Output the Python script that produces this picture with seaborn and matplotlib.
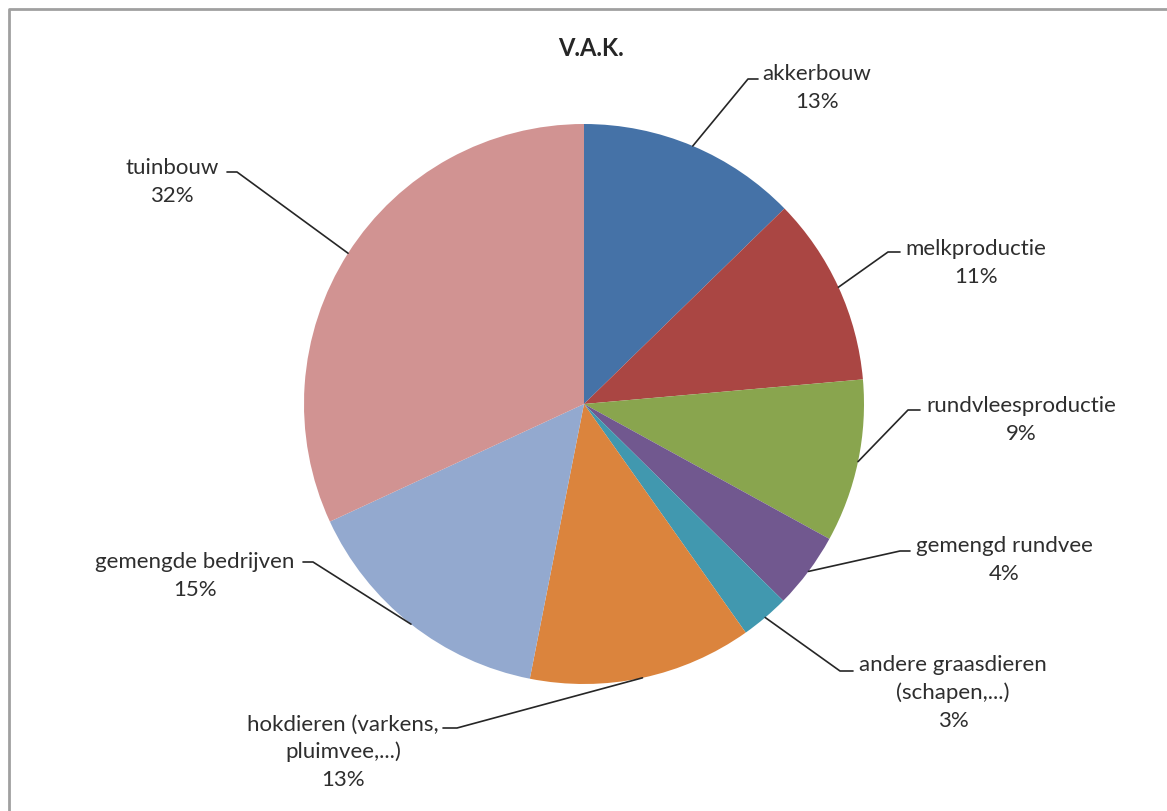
import numpy as np
import matplotlib
matplotlib.use("Agg")
import matplotlib.pyplot as plt
import seaborn as sns

# Data (share of V.A.K., clockwise from the top)
categories = ["akkerbouw", "melkproductie", "rundvleesproductie", "gemengd rundvee",
              "andere graasdieren\n(schapen,...)", "hokdieren (varkens,\npluimvee,...)",
              "gemengde bedrijven", "tuinbouw"]
shares = [12.7, 10.9, 9.4, 4.4, 2.8, 12.9, 15.0, 31.9]
colors = ["#4572A7", "#AA4643", "#89A54E", "#71588F", "#4198AF", "#DB843D", "#93A9CF", "#D19392"]

sns.set_theme(style="white")
plt.rcParams["font.family"] = ["Lato", "DejaVu Sans"]

W, H = 1167, 812
fig = plt.figure(figsize=(W / 100, H / 100), dpi=100)
ax = fig.add_axes([0, 0, 1, 1])

cx, cy, r = 584, 405, 280
wedges, _ = ax.pie(shares, colors=sns.color_palette(colors), center=(cx, cy), radius=r,
                   startangle=-90, counterclock=True, wedgeprops=dict(linewidth=0))
ax.set_xlim(0, W)
ax.set_ylim(H, 0)
ax.set_aspect("equal")
ax.axis("off")

# label layout: text block center, elbow point, horizontal end of leader
layout = [
    ((817, 88), (748, 80), (758, 80)),
    ((976, 263), (888, 253), (900, 253)),
    ((1021, 420), (908, 411), (920, 411)),
    ((1004, 560), (900, 552), (910, 552)),
    ((953, 693), (840, 672), (853, 672)),
    ((343, 752), (457, 729), (443, 729)),
    ((195, 576), (313, 563), (303, 563)),
    ((172, 182), (237, 173), (227, 173)),
]

total = sum(shares)
for w, name, val, (tpos, elbow, end) in zip(wedges, categories, shares, layout):
    mid = np.deg2rad((w.theta1 + w.theta2) / 2)
    sx, sy = cx + r * np.cos(mid), cy + r * np.sin(mid)
    ax.plot([sx, elbow[0], end[0]], [sy, elbow[1], end[1]], color="#262626", lw=1.2)
    pct = round(val / total * 100)
    ax.text(tpos[0], tpos[1], f"{name}\n{pct}%", ha="center", va="center",
            fontsize=16, color="#2e2e2e", linespacing=1.45)

ax.text(591, 48, "V.A.K.", ha="center", va="center", fontsize=17, fontweight="bold", color="#262626")

# chart border (only top and left visible)
ax.plot([9, 9, W], [H, 10, 10], color="#a0a0a0", lw=2, clip_on=False)

plt.savefig("out.png", dpi=100)
